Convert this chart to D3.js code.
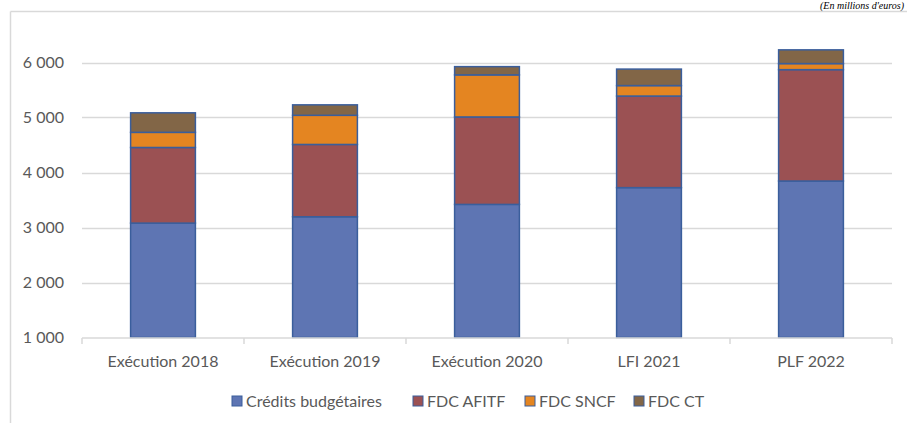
<!DOCTYPE html>
<html>
<head>
<meta charset="utf-8">
<script src="https://cdn.jsdelivr.net/npm/d3@7"></script>
<style>
  body { margin: 0; background: #fff; }
  svg { display: block; }
  text { font-family: Lato, "Open Sans", sans-serif; fill: #595959; }
</style>
</head>
<body>
<script>
// data (millions d'euros)
var categories = ["Exécution 2018", "Exécution 2019", "Exécution 2020", "LFI 2021", "PLF 2022"];
var seriesNames = ["Crédits budgétaires", "FDC AFITF", "FDC SNCF", "FDC CT"];
var credits = [3080, 3195, 3420, 3725, 3845];
var afitf = [1375, 1315, 1590, 1665, 2025];
var sncf = [275, 530, 765, 190, 110];
var ct = [355, 190, 150, 300, 250];
var yTicks = [1000, 2000, 3000, 4000, 5000, 6000];
var colors = ["#5e75b3", "#9b5153", "#e48521", "#826647"];

var width = 907, height = 423;

var svg = d3.select("body").append("svg")
  .attr("width", width)
  .attr("height", height);

// chart frame (only top & left visible)
svg.append("line").attr("x1", 10.5).attr("x2", width).attr("y1", 11.5).attr("y2", 11.5)
  .attr("stroke", "#d9d9d9").attr("stroke-width", 1.5);
svg.append("line").attr("x1", 10.5).attr("x2", 10.5).attr("y1", 11.5).attr("y2", height)
  .attr("stroke", "#d9d9d9").attr("stroke-width", 1.5);

svg.append("text")
  .attr("x", 904).attr("y", 9)
  .style("text-anchor", "end")
  .style("font-family", "'Liberation Serif', 'Times New Roman', serif")
  .style("font-style", "italic")
  .style("font-size", "10px")
  .style("fill", "#000")
  .text("(En millions d'euros)");

var xScale = d3.scaleBand().domain(categories).range([82, 892]).paddingInner(0.6).paddingOuter(0.3);
var yScale = d3.scaleLinear().domain([1000, 6000]).range([337.5, 62.5]);

// gridlines
svg.append("g")
  .selectAll("line")
  .data(yTicks.slice(1))
  .enter().append("line")
  .attr("x1", 82).attr("x2", 892)
  .attr("y1", function(d) { return Math.round(yScale(d)) + 0.5; })
  .attr("y2", function(d) { return Math.round(yScale(d)) + 0.5; })
  .attr("stroke", "#d9d9d9").attr("stroke-width", 1.5);

// y labels
svg.append("g")
  .selectAll("text")
  .data(yTicks)
  .enter().append("text")
  .attr("x", 64)
  .attr("y", function(d) { return yScale(d); })
  .attr("dy", "0.35em")
  .style("text-anchor", "end")
  .style("font-size", "16px")
  .text(function(d) { return d3.format(",")(d).replace(",", " "); });

// stacked data
var table = categories.map(function(c, i) {
  return {cat: c, s0: credits[i], s1: afitf[i], s2: sncf[i], s3: ct[i]};
});
var stack = d3.stack().keys(["s0", "s1", "s2", "s3"]);
var layers = stack(table);

svg.append("g")
  .selectAll("g")
  .data(layers)
  .enter().append("g")
  .attr("fill", function(d, i) { return colors[i]; })
  .selectAll("rect")
  .data(function(d) { return d; })
  .enter().append("rect")
  .attr("x", function(d) { return xScale(d.data.cat); })
  .attr("width", xScale.bandwidth())
  .attr("y", function(d) { return yScale(d[1]); })
  .attr("height", function(d) { return yScale(Math.max(d[0], 1000)) - yScale(d[1]); })
  .attr("stroke", "#3a5e9c")
  .attr("stroke-width", 1.5);

// x axis line + ticks
var xAxisG = svg.append("g");
xAxisG.append("line").attr("x1", 82).attr("x2", 892).attr("y1", 338).attr("y2", 338)
  .attr("stroke", "#d9d9d9").attr("stroke-width", 1.5);
xAxisG.selectAll(".tk")
  .data(d3.range(categories.length + 1))
  .enter().append("line")
  .attr("class", "tk")
  .attr("x1", function(i) { return 82 + i * xScale.step(); })
  .attr("x2", function(i) { return 82 + i * xScale.step(); })
  .attr("y1", 338).attr("y2", 344)
  .attr("stroke", "#d9d9d9").attr("stroke-width", 1.5);
xAxisG.selectAll("text")
  .data(categories)
  .enter().append("text")
  .attr("x", function(d) { return xScale(d) + xScale.bandwidth() / 2; })
  .attr("y", 367)
  .style("text-anchor", "middle")
  .style("font-size", "16px")
  .text(function(d) { return d; });

// legend
var legendX = [232, 413, 525, 634];
var legend = svg.append("g")
  .selectAll("g")
  .data(seriesNames)
  .enter().append("g")
  .attr("transform", function(d, i) { return "translate(" + legendX[i] + ",396)"; });
legend.append("rect")
  .attr("width", 10).attr("height", 10)
  .attr("fill", function(d, i) { return colors[i]; })
  .attr("stroke", "#3a5e9c").attr("stroke-width", 1);
legend.append("text")
  .attr("x", 14).attr("y", 11)
  .style("font-size", "16px")
  .text(function(d) { return d; });
</script>
</body>
</html>
